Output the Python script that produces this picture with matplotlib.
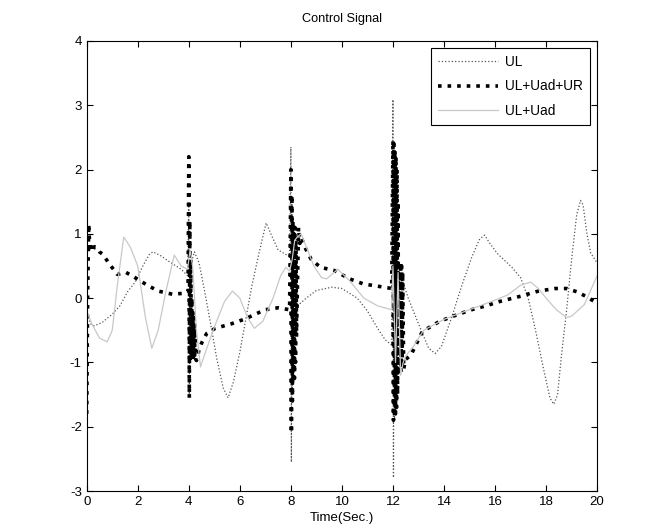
import matplotlib
matplotlib.use("Agg")
import matplotlib.pyplot as plt

plt.rcParams['font.family'] = ['Liberation Sans', 'DejaVu Sans']
plt.rcParams['axes.unicode_minus'] = False

# UL (thin dotted dark gray)
t_ul = [0, 0.15, 0.3, 0.6, 1.0, 1.3, 1.6, 1.9, 2.2, 2.45, 2.6, 2.9, 3.3, 3.7, 3.95,
        4.0, 4.02, 4.05, 4.1, 4.22, 4.4, 4.6, 4.86, 5.1, 5.35, 5.54, 5.75, 6.0, 6.2,
        6.46, 6.75, 7.03, 7.26, 7.5, 7.8, 7.95,
        8.0, 8.02, 8.04, 8.06, 8.08, 8.1, 8.15, 8.26, 8.6, 9.0, 9.6, 10.0, 10.6, 11.0,
        11.4, 11.7, 11.95,
        12.0, 12.02, 12.04, 12.06, 12.08, 12.1, 12.15, 12.25, 12.35, 12.6, 13.0, 13.4,
        13.66, 13.9, 14.3, 14.7, 15.1, 15.4, 15.59, 15.8, 16.1, 16.66, 17.0, 17.3,
        17.57, 17.9, 18.15, 18.3, 18.45, 18.6, 18.8, 19.0, 19.2, 19.35, 19.45, 19.6,
        19.75, 20.0]
ul = [-0.2, -0.4, -0.43, -0.38, -0.25, -0.12, 0.1, 0.25, 0.5, 0.68, 0.72, 0.66, 0.55, 0.45, 0.35,
      1.5, -1.55, 0.3, 0.55, 0.72, 0.55, 0.15, -0.41, -0.95, -1.4, -1.55, -1.3, -0.84, -0.4,
      0.17, 0.7, 1.17, 0.96, 0.75, 0.68, 0.65,
      2.35, -2.55, 1.5, -1.5, 0.8, -0.8, 0.0, -0.12, 0.0, 0.12, 0.17, 0.15, 0.0, -0.2,
      -0.47, -0.65, -0.73,
      3.09, -2.79, 2.0, -1.9, 1.2, -1.0, 0.5, 0.1, 0.3, 0.0, -0.4, -0.78,
      -0.86, -0.75, -0.3, 0.2, 0.65, 0.92, 0.98, 0.85, 0.69, 0.48, 0.32, 0.0,
      -0.47, -1.1, -1.55, -1.65, -1.5, -0.9, -0.2, 0.6, 1.3, 1.52, 1.45, 1.0,
      0.7, 0.55]

# UL+Uad+UR (thick dotted black)
t_full = [0, 0.04, 0.08, 0.12, 0.16, 0.22, 0.3, 0.4, 0.5, 0.63, 0.91, 1.2, 1.54, 1.89,
          2.34, 2.8, 3.37, 3.89, 3.97,
          4.0, 4.02, 4.04, 4.06, 4.08, 4.10, 4.12, 4.14, 4.16, 4.18, 4.20, 4.22, 4.24,
          4.27, 4.3, 4.35, 4.4, 4.5, 4.7, 5.03, 5.66, 6.23, 6.6, 7.0, 7.5, 7.95,
          8.0, 8.02, 8.04, 8.06, 8.08, 8.10, 8.12, 8.14, 8.16, 8.18, 8.2, 8.22, 8.3,
          8.35, 8.4, 8.6, 8.8, 9.16, 9.7, 10.3, 10.85, 11.5, 11.95,
          12.0, 12.02, 12.04, 12.06, 12.08, 12.1, 12.12, 12.14, 12.16, 12.18, 12.2,
          12.22, 12.3, 12.32, 12.34, 12.36, 12.38, 12.42, 12.5, 12.7, 13.15, 13.83,
          14.5, 15.08, 15.64, 16.2, 17.0, 17.7, 18.36, 18.8, 19.2, 19.6, 20.0]
full = [-1.8, 0.2, 1.15, 0.75, 0.82, 0.72, 0.8, 0.78, 0.72, 0.68, 0.52, 0.37, 0.4, 0.32,
        0.21, 0.11, 0.06, 0.08, 0.1,
        2.2, -1.55, 1.2, -1.0, 0.6, -0.9, 0.0, -0.95, -0.2, -0.95, -0.3, -0.95, -0.4,
        -0.95, -0.97, -0.9, -0.8, -0.7, -0.55, -0.47, -0.4, -0.32, -0.25, -0.18, -0.15, -0.18,
        2.0, -2.1, 1.6, -1.6, 1.2, -1.3, 1.0, -1.25, 1.1, -1.0, 0.9, -0.6, 1.1,
        0.85, 0.95, 0.75, 0.6, 0.48, 0.43, 0.3, 0.22, 0.18, 0.15,
        2.45, -1.9, 2.4, -1.85, 2.3, -1.8, 2.2, -1.7, 2.0, -1.5, 1.5,
        -1.2, 0.55, -1.15, 0.5, -1.1, 0.4, -1.1, -0.95, -0.89, -0.52, -0.36,
        -0.26, -0.18, -0.12, -0.05, 0.03, 0.11, 0.15, 0.15, 0.1, 0.02, -0.08]

# UL+Uad (thin solid light gray)
t_lad = [0, 0.2, 0.5, 0.8, 1.0, 1.2, 1.45, 1.7, 2.0, 2.3, 2.55, 2.8, 3.1, 3.43, 3.7, 3.95,
         4.05, 4.15, 4.3, 4.46, 4.6, 5.0, 5.4, 5.71, 6.0, 6.3, 6.57, 6.9, 7.3, 7.6, 7.8,
         7.95, 8.05, 8.15, 8.25, 8.4, 8.6, 8.9, 9.2, 9.4, 9.84, 10.3, 10.86, 11.4, 11.95,
         12.0, 12.1, 12.2, 12.3, 12.4, 12.5, 12.8, 13.2, 14.0, 15.0, 16.0, 16.5, 17.0,
         17.4, 17.7, 18.0, 18.4, 18.8, 19.0, 19.5, 20.0]
lad = [-0.2, -0.4, -0.62, -0.68, -0.5, 0.2, 0.95, 0.8, 0.5, -0.3, -0.78, -0.5, 0.1, 0.67, 0.5, 0.45,
       0.75, 0.5, -0.5, -1.07, -0.9, -0.45, -0.05, 0.11, 0.0, -0.3, -0.47, -0.36, 0.0, 0.35, 0.48,
       0.42, 0.6, 0.9, 0.95, 1.0, 0.8, 0.5, 0.32, 0.3, 0.45, 0.27, 0.0, -0.12, -0.18,
       0.5, -1.0, 0.4, -1.2, -1.0, -0.9, -0.75, -0.5, -0.33, -0.18, -0.03, 0.05, 0.2,
       0.25, 0.15, 0.0, -0.18, -0.3, -0.28, -0.1, 0.35]

fig = plt.figure(figsize=(6.62, 5.32), dpi=100)
ax = fig.add_axes([0.131, 0.077, 0.771, 0.846])

ax.plot(t_ul, ul, color="#555555", linestyle=":", linewidth=0.9, label="UL")
ax.plot(t_full, full, color="black", linestyle=":", linewidth=2.6, label="UL+Uad+UR")
ax.plot(t_lad, lad, color="#c8c8c8", linestyle="-", linewidth=0.9, label="UL+Uad")

ax.set_xlim(0, 20)
ax.set_ylim(-3, 4)
ax.set_xticks(range(0, 21, 2))
ax.set_yticks(range(-3, 5))
ax.tick_params(direction="in", top=True, right=True, labelsize=9.5, length=4)
ax.set_title("Control Signal", fontsize=9.2, pad=14)
ax.set_xlabel("Time(Sec.)", fontsize=9.5, labelpad=3)

leg = ax.legend(loc="upper right", fontsize=9.8, handlelength=4.4, fancybox=False,
                framealpha=1, edgecolor="black", borderaxespad=0.5,
                labelspacing=0.75, handletextpad=0.5, borderpad=0.55)
leg.get_frame().set_linewidth(0.8)

fig.savefig("out.png", dpi=100)
